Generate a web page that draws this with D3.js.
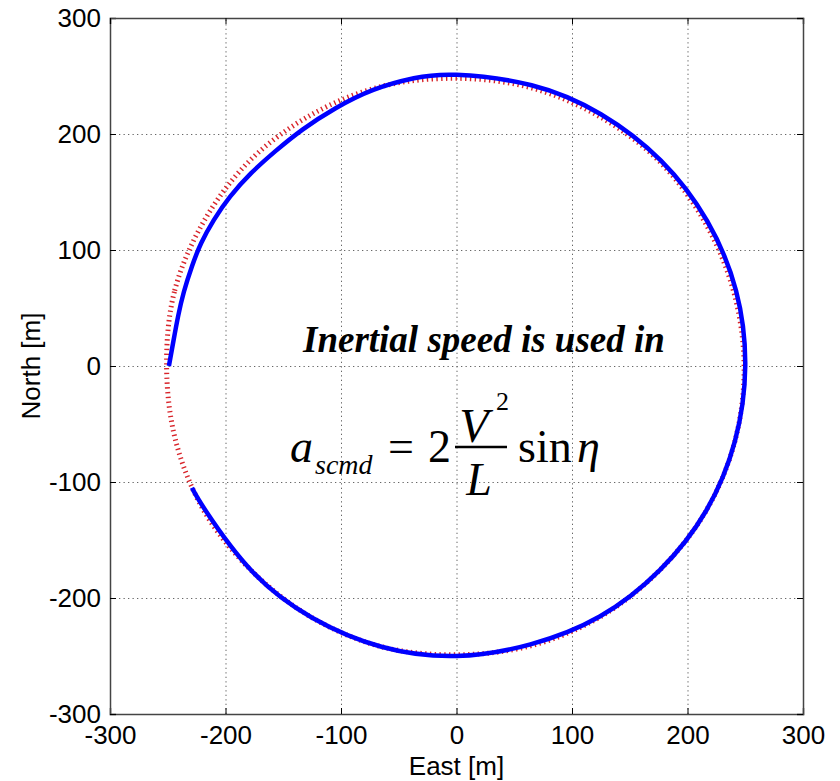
<!DOCTYPE html>
<html>
<head>
<meta charset="utf-8">
<script src="https://cdn.jsdelivr.net/npm/d3@7"></script>
<style>
  body { margin: 0; background: #fff; }
  svg { display: block; }
  .tick text { font-family: "Liberation Sans", Arial, sans-serif; }
</style>
</head>
<body>
<div id="chart"></div>
<script>
// axis ticks (m)
const ticks = [-300, -200, -100, 0, 100, 200, 300];

// reference circle (red dotted), [east, north], clockwise from west
const refEast  = [-251, -244, -218, -178, -125, -65, 0, 64, 124, 176, 215, 240, 249, 241, 216, 176, 125, 65, 0, -65, -125, -177, -218, -243];
const refNorth = [0, 65, 126, 178, 217, 241, 248, 240, 215, 176, 124, 64, 0, -65, -125, -176, -216, -241, -249, -242, -217, -177, -126, -65];

// flown track (blue), starts at the west point and goes clockwise
const trkEast  = [-249, -245, -241, -236, -229, -221, -210, -196, -178, -157, -133, -105, -72, -37, 0, 65, 125, 177, 217, 242, 250, 241, 216, 176, 124, 64, 0, -65, -125, -177, -217, -229];
const trkNorth = [0, 22, 43, 64, 86, 106, 126, 146, 166, 185, 204, 222, 238, 248, 251, 242, 217, 177, 125, 65, 0, -65, -125, -176, -216, -240, -250, -242, -217, -177, -125, -105];

const W = 840, H = 781;
const margin = {left: 110, right: 37, top: 18, bottom: 67};
const w = W - margin.left - margin.right;
const h = H - margin.top - margin.bottom;

const svg = d3.select('#chart').append('svg')
  .attr('width', W)
  .attr('height', H);

// cut-off title piece at the very top
svg.append('text')
  .attr('x', 600).attr('y', -14)
  .attr('font-family', 'Liberation Sans, Arial, sans-serif')
  .attr('font-size', 30)
  .attr('font-weight', 'bold')
  .attr('fill', '#ff5533')
  .text('g');

const g = svg.append('g').attr('transform', 'translate(' + margin.left + ',' + margin.top + ')');

const x = d3.scaleLinear().domain([-300, 300]).range([0, w]);
const y = d3.scaleLinear().domain([-300, 300]).range([h, 0]);

// grid
g.append('g').attr('class', 'grid')
  .attr('transform', 'translate(0,' + h + ')')
  .call(d3.axisBottom(x).tickValues(ticks.slice(1, -1)).tickSize(-h).tickFormat(''));
g.append('g').attr('class', 'grid')
  .call(d3.axisLeft(y).tickValues(ticks.slice(1, -1)).tickSize(-w).tickFormat(''));
g.selectAll('.grid .domain').remove();
g.selectAll('.grid line')
  .attr('stroke', '#666')
  .attr('stroke-width', 1)
  .attr('stroke-dasharray', '1.3,3.2');

const ref = refEast.map((e, i) => [e, refNorth[i]]);
const trk = trkEast.map((e, i) => [e, trkNorth[i]]);

// reference circle
g.append('path')
  .datum(ref)
  .attr('fill', 'none')
  .attr('stroke', '#d8242a')
  .attr('stroke-width', 5)
  .attr('stroke-dasharray', '1.4,3.4')
  .attr('d', d3.line().x(d => x(d[0])).y(d => y(d[1])).curve(d3.curveCatmullRomClosed));

// track
g.append('path')
  .datum(trk)
  .attr('fill', 'none')
  .attr('stroke', '#0000ff')
  .attr('stroke-width', 4.5)
  .attr('stroke-linejoin', 'round')
  .attr('d', d3.line().x(d => x(d[0])).y(d => y(d[1])).curve(d3.curveNatural));

// axes: ticks inside on all four sides
const fmt = d => String(d);
const xAx = g.append('g')
  .attr('transform', 'translate(0,' + h + ')')
  .call(d3.axisBottom(x).tickValues(ticks).tickSize(-6).tickPadding(12).tickFormat(fmt));
const yAx = g.append('g')
  .call(d3.axisLeft(y).tickValues(ticks).tickSize(-6).tickPadding(9).tickFormat(fmt));
g.append('g')
  .call(d3.axisTop(x).tickValues(ticks).tickSize(-6).tickFormat(''));
g.append('g')
  .attr('transform', 'translate(' + w + ',0)')
  .call(d3.axisRight(y).tickValues(ticks).tickSize(-6).tickFormat(''));

g.selectAll('.domain').attr('stroke', '#444').attr('stroke-width', 1.5);
xAx.selectAll('text').attr('font-size', 26).attr('fill', '#000');
yAx.selectAll('text').attr('font-size', 26).attr('fill', '#000');

// axis labels
svg.append('text')
  .attr('x', margin.left + w / 2).attr('y', 775)
  .attr('text-anchor', 'middle')
  .attr('font-family', 'Liberation Sans, Arial, sans-serif')
  .attr('font-size', 26)
  .text('East [m]');
svg.append('text')
  .attr('transform', 'translate(40,' + (margin.top + h / 2) + ') rotate(-90)')
  .attr('text-anchor', 'middle')
  .attr('font-family', 'Liberation Sans, Arial, sans-serif')
  .attr('font-size', 26)
  .text('North [m]');

// annotation
const serif = 'Liberation Serif, Times New Roman, serif';
svg.append('text')
  .attr('x', 303).attr('y', 352)
  .attr('font-family', serif)
  .attr('font-size', 37)
  .attr('font-weight', 'bold')
  .attr('font-style', 'italic')
  .text('Inertial speed is used in');

const f = svg.append('g').attr('font-family', serif).attr('fill', '#000');
f.append('text').attr('x', 290).attr('y', 462).attr('font-size', 46).attr('font-style', 'italic').text('a');
f.append('text').attr('x', 315).attr('y', 474).attr('font-size', 28).attr('font-style', 'italic').text('scmd');
f.append('text').attr('x', 388).attr('y', 462).attr('font-size', 46).text('=');
f.append('text').attr('x', 428).attr('y', 462).attr('font-size', 46).text('2');
f.append('text').attr('x', 474).attr('y', 442).attr('font-size', 48).attr('font-style', 'italic').attr('text-anchor', 'middle').text('V');
f.append('text').attr('x', 496).attr('y', 410).attr('font-size', 26).text('2');
f.append('line').attr('x1', 455).attr('x2', 507).attr('y1', 447).attr('y2', 447).attr('stroke', '#000').attr('stroke-width', 2.5);
f.append('text').attr('x', 479).attr('y', 495).attr('font-size', 46).attr('font-style', 'italic').attr('text-anchor', 'middle').text('L');
f.append('text').attr('x', 518).attr('y', 462).attr('font-size', 46).text('sin');
f.append('text').attr('x', 577).attr('y', 462).attr('font-size', 46).attr('font-style', 'italic').text('η');
</script>
</body>
</html>
